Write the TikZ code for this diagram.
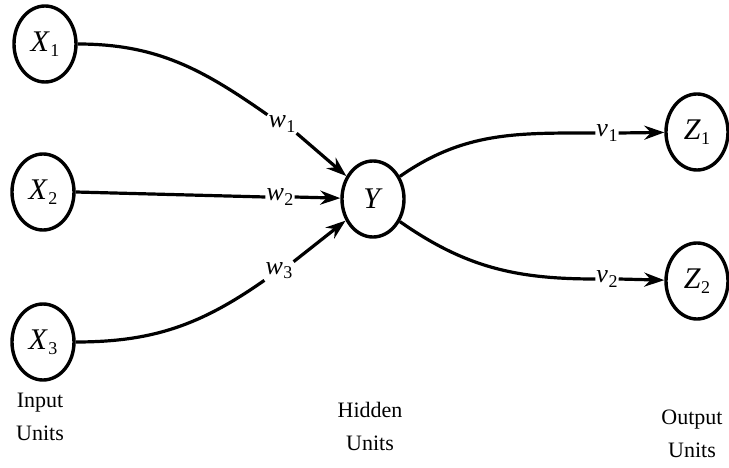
\documentclass[tikz,border=0pt]{standalone}
\usepackage{fontspec}
\setmainfont{Liberation Serif}
\usetikzlibrary{arrows.meta,shapes.geometric}
\newcommand{\lblsub}[2]{\textit{#1}\kern0.5pt\raisebox{-0.35ex}{\fontsize{18}{18}\selectfont #2}}
\begin{document}
\begin{tikzpicture}[x=1pt,y=-1pt,
  unit/.style={draw, line width=3.4pt, ellipse, minimum width=62pt, minimum height=76pt, inner sep=0pt, font=\fontsize{30}{30}\selectfont},
  wt/.style={inner sep=1pt, font=\fontsize{26}{26}\selectfont},
  conn/.style={line width=3.2pt},
  arr/.style={conn, -{Stealth[length=20pt,width=14pt]}},
  unitcaption/.style={align=center, font=\fontsize{22}{33}\selectfont}]
\useasboundingbox (0,0) rectangle (729,468);
% units
\node[unit] (X1) at (45,44) {\lblsub{X}{1}};
\node[unit] (X2) at (43,192) {\lblsub{X}{2}};
\node[unit] (X3) at (43,342) {\lblsub{X}{3}};
\node[unit] (Y) at (373,199) {\textit{Y}};
\node[unit] (Z1) at (697,132) {\lblsub{Z}{1}};
\node[unit] (Z2) at (697,281) {\lblsub{Z}{2}};
% weight labels
\node[wt] (w1) at (282,124) {\lblsub{w}{1}};
\node[wt] (w2) at (280,197) {\lblsub{w}{2}};
\node[wt] (w3) at (279,271) {\lblsub{w}{3}};
\node[wt] (v1) at (607,133) {\lblsub{v}{1}};
\node[wt] (v2) at (607,279) {\lblsub{v}{2}};
% connectors
\draw[conn] (X1.east) to[out=0,in=145] (w1.north west);
\draw[arr] (w1.south east) -- (Y);
\draw[conn] (X2.east) -- (w2.west);
\draw[arr] (w2.east) -- (Y);
\draw[conn] (X3.east) to[out=0,in=-145] (w3.south west);
\draw[arr] (w3.north east) -- (Y);
\draw[conn] (Y.40) to[out=35,in=180] (v1.west);
\draw[arr] (v1.east) -- (Z1);
\draw[conn] (Y.-40) to[out=-35,in=180] (v2.west);
\draw[arr] (v2.east) -- (Z2);
% captions
\node[unitcaption] (in) at (40,417) {Input\\Units};
\node[unitcaption] (hid) at (370,426) {Hidden\\Units};
\node[unitcaption] (out) at (692,434) {Output\\Units};
\end{tikzpicture}
\end{document}
